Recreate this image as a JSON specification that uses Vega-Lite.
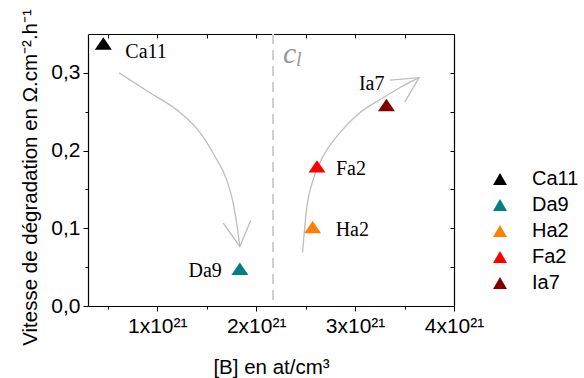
{
  "$schema": "https://vega.github.io/schema/vega-lite/v6.json",
  "width": 366,
  "height": 272,
  "autosize": {"type": "none"},
  "padding": {"left": 88, "top": 34, "right": 130, "bottom": 72},
  "background": "white",
  "view": {"stroke": null},
  "config": {
    "axis": {
      "domainColor": "#000000", "domainWidth": 1.2, "tickColor": "#000000", "tickWidth": 1,
      "labelColor": "#000000", "titleColor": "#000000", "grid": false,
      "labelFont": "Liberation Sans", "titleFont": "Liberation Sans",
      "labelFontSize": 21, "titleFontSize": 20.5, "titleFontWeight": "normal"
    },
    "text": {"font": "Liberation Serif"}
  },
  "data": {"values": [
    {"sample": "Ca11", "x": 0.455, "y": 0.3378},
    {"sample": "Da9", "x": 1.835, "y": 0.048},
    {"sample": "Ha2", "x": 2.571, "y": 0.1015},
    {"sample": "Fa2", "x": 2.615, "y": 0.1797},
    {"sample": "Ia7", "x": 3.317, "y": 0.2587}
  ]},
  "resolve": {"axis": {"x": "independent", "y": "independent"}},
  "layer": [
    {
      "data": {"values": [{"x": 2.17}]},
      "mark": {"type": "rule", "color": "#d0d0d0", "strokeWidth": 2, "strokeDash": [10, 6]},
      "encoding": {
        "x": {"field": "x", "type": "quantitative", "scale": {"domain": [0.3, 4], "nice": false, "zero": false}, "axis": null}
      }
    },
    {
      "data": {"values": [
        {"a": "A", "i": 0, "x": 0.615, "y": 0.300},
        {"a": "A", "i": 1, "x": 0.926, "y": 0.2745},
        {"a": "A", "i": 2, "x": 1.229, "y": 0.2493},
        {"a": "A", "i": 3, "x": 1.431, "y": 0.2235},
        {"a": "A", "i": 4, "x": 1.583, "y": 0.1927},
        {"a": "A", "i": 5, "x": 1.701, "y": 0.1626},
        {"a": "A", "i": 6, "x": 1.768, "y": 0.1325},
        {"a": "A", "i": 7, "x": 1.808, "y": 0.1023},
        {"a": "A", "i": 8, "x": 1.835, "y": 0.0765},
        {"a": "B", "i": 0, "x": 2.469, "y": 0.0688},
        {"a": "B", "i": 1, "x": 2.509, "y": 0.1239},
        {"a": "B", "i": 2, "x": 2.576, "y": 0.1626},
        {"a": "B", "i": 3, "x": 2.677, "y": 0.1926},
        {"a": "B", "i": 4, "x": 2.845, "y": 0.2228},
        {"a": "B", "i": 5, "x": 3.047, "y": 0.2486},
        {"a": "B", "i": 6, "x": 3.283, "y": 0.268},
        {"a": "B", "i": 7, "x": 3.452, "y": 0.2809},
        {"a": "B", "i": 8, "x": 3.647, "y": 0.2938}
      ]},
      "mark": {"type": "line", "color": "#bdbdbd", "strokeWidth": 1.3, "interpolate": "monotone"},
      "encoding": {
        "x": {"field": "x", "type": "quantitative", "scale": {"domain": [0.3, 4], "nice": false, "zero": false}, "axis": null},
        "y": {"field": "y", "type": "quantitative", "scale": {"domain": [0, 0.35], "nice": false}, "axis": null},
        "detail": {"field": "a"},
        "order": {"field": "i"}
      }
    },
    {
      "data": {"values": [
        {"a": "A", "i": 0, "x": 1.667, "y": 0.1067},
        {"a": "A", "i": 1, "x": 1.835, "y": 0.0765},
        {"a": "A", "i": 2, "x": 1.943, "y": 0.1097},
        {"a": "B", "i": 0, "x": 3.351, "y": 0.2907},
        {"a": "B", "i": 1, "x": 3.647, "y": 0.2938},
        {"a": "B", "i": 2, "x": 3.502, "y": 0.2623}
      ]},
      "mark": {"type": "line", "color": "#bdbdbd", "strokeWidth": 1.3},
      "encoding": {
        "x": {"field": "x", "type": "quantitative", "scale": {"domain": [0.3, 4], "nice": false, "zero": false},
          "axis": {"orient": "top", "values": [0.5, 1, 1.5, 2, 2.5, 3, 3.5, 4], "labels": false, "tickSize": -4, "title": null}},
        "y": {"field": "y", "type": "quantitative", "scale": {"domain": [0, 0.35], "nice": false},
          "axis": {"orient": "right", "values": [0, 0.05, 0.1, 0.15, 0.2, 0.25, 0.3], "labels": false, "tickSize": -4, "title": null}},
        "detail": {"field": "a"},
        "order": {"field": "i"}
      }
    },
    {
      "data": {"values": [{"x": 2.17, "y": 0.35, "t": "c", "s": "l"}]},
      "mark": {"type": "text", "fontStyle": "italic", "fontSize": 30, "color": "#999999", "align": "left", "baseline": "alphabetic", "dx": 10, "dy": 29},
      "encoding": {
        "x": {"field": "x", "type": "quantitative", "scale": {"domain": [0.3, 4], "nice": false, "zero": false}, "axis": null},
        "y": {"field": "y", "type": "quantitative", "scale": {"domain": [0, 0.35], "nice": false}, "axis": null},
        "text": {"field": "t"}
      }
    },
    {
      "data": {"values": [{"x": 2.17, "y": 0.35, "t": "c", "s": "l"}]},
      "mark": {"type": "text", "fontStyle": "italic", "fontSize": 20, "color": "#999999", "align": "left", "baseline": "alphabetic", "dx": 23, "dy": 32},
      "encoding": {
        "x": {"field": "x", "type": "quantitative", "scale": {"domain": [0.3, 4], "nice": false, "zero": false}, "axis": null},
        "y": {"field": "y", "type": "quantitative", "scale": {"domain": [0, 0.35], "nice": false}, "axis": null},
        "text": {"field": "s"}
      }
    },
    {
      "mark": {"type": "point", "filled": true, "opacity": 1, "shape": "M0,-0.73L1,0.73L-1,0.73Z", "size": 289},
      "encoding": {
        "x": {"field": "x", "type": "quantitative", "scale": {"domain": [0.3, 4], "nice": false, "zero": false},
          "axis": {"orient": "bottom", "values": [0.5, 1, 1.5, 2, 2.5, 3, 3.5, 4],
            "labelExpr": "datum.value % 1 == 0 ? datum.value + 'x10²¹' : ''",
            "tickSize": {"condition": {"test": "datum.value % 1 != 0", "value": 3}, "value": 5},
            "labelPadding": 4, "labelFlush": false, "labelOverlap": false,
            "title": "[B] en at/cm³", "titleY": 67, "titleBaseline": "alphabetic"}},
        "y": {"field": "y", "type": "quantitative", "scale": {"domain": [0, 0.35], "nice": false},
          "axis": {"orient": "left", "values": [0, 0.05, 0.1, 0.15, 0.2, 0.25, 0.3],
            "labelExpr": "abs(datum.value*10 - round(datum.value*10)) < 0.001 ? replace(format(datum.value, '.1f'), '.', ',') : ''",
            "tickSize": {"condition": {"test": "abs(datum.value*10 - round(datum.value*10)) > 0.001", "value": 3}, "value": 5},
            "labelPadding": 3, "labelFlush": false, "labelOverlap": false,
            "title": "Vitesse de dégradation en Ω.cm⁻².h⁻¹", "titleX": -52, "titleY": 143, "titleAngle": 270,
            "titleAlign": "center", "titleBaseline": "alphabetic"}},
        "color": {"field": "sample", "type": "nominal",
          "scale": {"domain": ["Ca11", "Da9", "Ha2", "Fa2", "Ia7"], "range": ["#000000", "#008080", "#ff8000", "#ff0000", "#800000"]},
          "legend": {"orient": "none", "legendX": 402, "legendY": 135, "title": null, "padding": 0,
            "symbolType": "triangle-up", "symbolSize": 196, "symbolStrokeWidth": 0, "symbolOpacity": 1,
            "labelFont": "Liberation Sans", "labelFontSize": 20, "labelColor": "#000000", "labelOffset": 22, "rowPadding": 6}}
      }
    },
    {
      "transform": [{"filter": "datum.sample == 'Ca11'"}],
      "mark": {"type": "text", "fontSize": 20, "align": "left", "baseline": "middle", "dx": 22, "dy": 9, "color": "#000000"},
      "encoding": {
        "x": {"field": "x", "type": "quantitative", "scale": {"domain": [0.3, 4], "nice": false, "zero": false}, "axis": null},
        "y": {"field": "y", "type": "quantitative", "scale": {"domain": [0, 0.35], "nice": false}, "axis": null},
        "text": {"field": "sample"}
      }
    },
    {
      "transform": [{"filter": "datum.sample == 'Da9'"}],
      "mark": {"type": "text", "fontSize": 20, "align": "right", "baseline": "middle", "dx": -18, "dy": 2, "color": "#000000"},
      "encoding": {
        "x": {"field": "x", "type": "quantitative", "scale": {"domain": [0.3, 4], "nice": false, "zero": false}, "axis": null},
        "y": {"field": "y", "type": "quantitative", "scale": {"domain": [0, 0.35], "nice": false}, "axis": null},
        "text": {"field": "sample"}
      }
    },
    {
      "transform": [{"filter": "datum.sample == 'Ha2'"}],
      "mark": {"type": "text", "fontSize": 20, "align": "left", "baseline": "middle", "dx": 23, "dy": 3, "color": "#000000"},
      "encoding": {
        "x": {"field": "x", "type": "quantitative", "scale": {"domain": [0.3, 4], "nice": false, "zero": false}, "axis": null},
        "y": {"field": "y", "type": "quantitative", "scale": {"domain": [0, 0.35], "nice": false}, "axis": null},
        "text": {"field": "sample"}
      }
    },
    {
      "transform": [{"filter": "datum.sample == 'Fa2'"}],
      "mark": {"type": "text", "fontSize": 20, "align": "left", "baseline": "middle", "dx": 19, "dy": 3, "color": "#000000"},
      "encoding": {
        "x": {"field": "x", "type": "quantitative", "scale": {"domain": [0.3, 4], "nice": false, "zero": false}, "axis": null},
        "y": {"field": "y", "type": "quantitative", "scale": {"domain": [0, 0.35], "nice": false}, "axis": null},
        "text": {"field": "sample"}
      }
    },
    {
      "transform": [{"filter": "datum.sample == 'Ia7'"}],
      "mark": {"type": "text", "fontSize": 20, "align": "right", "baseline": "middle", "dx": -2, "dy": -21, "color": "#000000"},
      "encoding": {
        "x": {"field": "x", "type": "quantitative", "scale": {"domain": [0.3, 4], "nice": false, "zero": false}, "axis": null},
        "y": {"field": "y", "type": "quantitative", "scale": {"domain": [0, 0.35], "nice": false}, "axis": null},
        "text": {"field": "sample"}
      }
    }
  ]
}
